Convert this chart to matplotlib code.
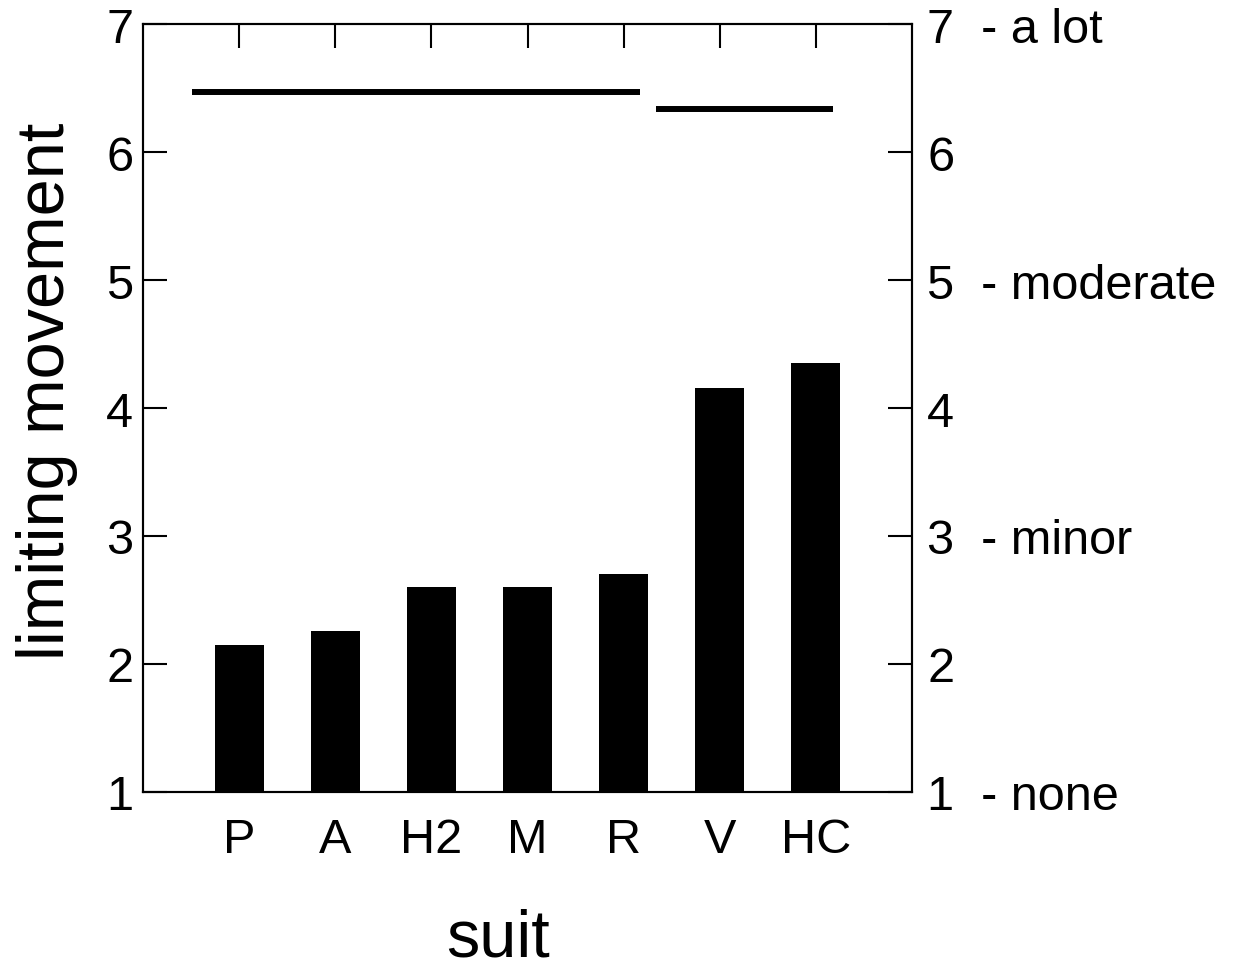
import matplotlib
matplotlib.use("Agg")
import matplotlib.pyplot as plt

plt.rcParams['font.family'] = ['Liberation Sans', 'DejaVu Sans']

# Data
suits = ["P", "A", "H2", "M", "R", "V", "HC"]
values = [2.15, 2.26, 2.60, 2.60, 2.70, 4.16, 4.35]
y_ticks = [1, 2, 3, 4, 5, 6, 7]
right_labels = ["1  - none", "2", "3  - minor", "4", "5  - moderate", "6", "7  - a lot"]
# homogeneous-subset lines (x in category units)
sig_start = [-0.49, 4.34]
sig_end = [4.17, 6.18]
sig_level = [6.47, 6.34]

fig = plt.figure(figsize=(12.36, 9.70), dpi=100)
ax = fig.add_axes([0.1157, 0.1825, 0.6222, 0.7917])

x = list(range(len(suits)))
ax.bar(x, values, width=0.51, color="black", bottom=0)
ax.set_xlim(-1, 7)
ax.set_ylim(1, 7)

ax.hlines(sig_level, sig_start, sig_end, colors="black", linewidth=4.3)

for s in ax.spines.values():
    s.set_linewidth(1.5)

ax.set_xticks(x)
ax.set_xticklabels(suits)
ax.tick_params(axis='x', bottom=False, top=True, labelbottom=True, labeltop=False,
               direction='in', length=17, width=1.5, labelsize=35, pad=18)
ax.set_yticks(y_ticks)
ax.set_yticklabels([str(v) for v in y_ticks])
ax.tick_params(axis='y', left=True, right=False, direction='in', length=17, width=1.5,
               labelsize=35, pad=7)

ax2 = ax.twinx()
ax2.set_ylim(1, 7)
ax2.set_yticks(y_ticks)
ax2.set_yticklabels(right_labels)
ax2.tick_params(axis='y', right=True, direction='in', length=17, width=1.5,
                labelsize=35, pad=11)
for s in ax2.spines.values():
    s.set_linewidth(1.5)

ax.set_xlabel("suit", fontsize=48)
ax.xaxis.set_label_coords(0.462, -0.150)
ax.set_ylabel("limiting movement", fontsize=48)
ax.yaxis.set_label_coords(-0.084, 0.523)

fig.savefig("out.png", dpi=100)
